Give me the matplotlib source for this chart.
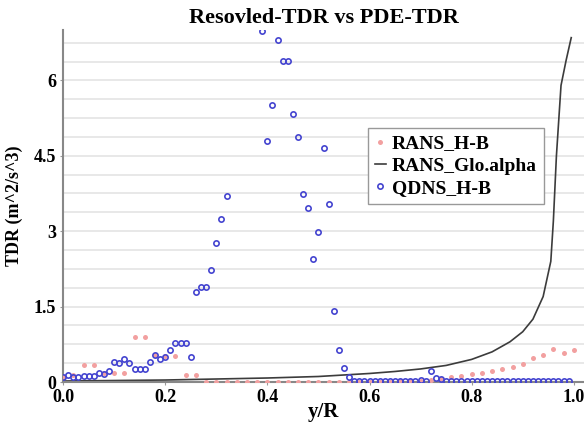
import numpy as np
import matplotlib
matplotlib.use('Agg')
import matplotlib.pyplot as plt
from matplotlib.ticker import MultipleLocator

# RANS_H-B (pink dots), every 0.02
rans_hb_x = [0.00, 0.02, 0.04, 0.06, 0.08, 0.10, 0.12, 0.14, 0.16, 0.18, 0.20,
             0.22, 0.24, 0.26, 0.28, 0.30, 0.32, 0.34, 0.36, 0.38, 0.40, 0.42,
             0.44, 0.46, 0.48, 0.50, 0.52, 0.54, 0.56, 0.58, 0.60, 0.62, 0.64,
             0.66, 0.68, 0.70, 0.72, 0.74, 0.76, 0.78, 0.80, 0.82, 0.84, 0.86,
             0.88, 0.90, 0.92, 0.94, 0.96, 0.98, 1.00]
rans_hb_y = [0.10, 0.13, 0.34, 0.34, 0.17, 0.18, 0.18, 0.89, 0.89, 0.53, 0.52,
             0.51, 0.14, 0.14, 0.01, 0.01, 0.01, 0.01, 0.01, 0.01, 0.01, 0.01,
             0.01, 0.01, 0.01, 0.01, 0.01, 0.01, 0.01, 0.01, 0.01, 0.01, 0.01,
             0.02, 0.02, 0.03, 0.05, 0.07, 0.10, 0.12, 0.15, 0.18, 0.21, 0.25,
             0.30, 0.35, 0.47, 0.54, 0.65, 0.57, 0.63]

# RANS_Glo.alpha (line)
glo_x = [0.0, 0.1, 0.2, 0.3, 0.4, 0.5, 0.6, 0.65, 0.7, 0.75, 0.8, 0.84, 0.875,
         0.9, 0.92, 0.94, 0.955, 0.96, 0.966, 0.975, 0.985, 0.995]
glo_y = [0.02, 0.03, 0.04, 0.06, 0.08, 0.11, 0.17, 0.21, 0.26, 0.33, 0.45, 0.60,
         0.80, 1.00, 1.25, 1.70, 2.40, 3.20, 4.50, 5.90, 6.40, 6.85]

# QDNS_H-B (blue circles), every 0.01 (0.33-0.38 above the plotted range)
qdns_x = [0.00, 0.01, 0.02, 0.03, 0.04, 0.05, 0.06, 0.07, 0.08, 0.09, 0.10,
          0.11, 0.12, 0.13, 0.14, 0.15, 0.16, 0.17, 0.18, 0.19, 0.20, 0.21,
          0.22, 0.23, 0.24, 0.25, 0.26, 0.27, 0.28, 0.29, 0.30, 0.31, 0.32,
          0.39, 0.40, 0.41, 0.42, 0.43, 0.44, 0.45, 0.46, 0.47, 0.48, 0.49,
          0.50, 0.51, 0.52, 0.53, 0.54, 0.55, 0.56, 0.57, 0.58, 0.59, 0.60,
          0.61, 0.62, 0.63, 0.64, 0.65, 0.66, 0.67, 0.68, 0.69, 0.70, 0.71,
          0.72, 0.73, 0.74, 0.75, 0.76, 0.77, 0.78, 0.79, 0.80, 0.81, 0.82,
          0.83, 0.84, 0.85, 0.86, 0.87, 0.88, 0.89, 0.90, 0.91, 0.92, 0.93,
          0.94, 0.95, 0.96, 0.97, 0.98, 0.99]
qdns_y = [0.10, 0.14, 0.10, 0.09, 0.11, 0.11, 0.12, 0.17, 0.16, 0.22, 0.40,
          0.38, 0.46, 0.38, 0.25, 0.25, 0.25, 0.40, 0.54, 0.45, 0.50, 0.64,
          0.78, 0.78, 0.78, 0.50, 1.79, 1.89, 1.89, 2.23, 2.76, 3.24, 3.70,
          6.98, 4.79, 5.51, 6.80, 6.38, 6.38, 5.33, 4.87, 3.74, 3.46, 2.45,
          2.98, 4.65, 3.54, 1.41, 0.64, 0.28, 0.10, 0.02, 0.02, 0.02, 0.02,
          0.02, 0.02, 0.02, 0.02, 0.02, 0.02, 0.02, 0.02, 0.02, 0.05, 0.02,
          0.22, 0.08, 0.06, 0.03, 0.02, 0.02, 0.02, 0.02, 0.02, 0.02, 0.02,
          0.02, 0.02, 0.02, 0.02, 0.02, 0.02, 0.02, 0.02, 0.02, 0.02, 0.02,
          0.02, 0.02, 0.02, 0.02, 0.02, 0.02]

plt.rcParams['font.family'] = ['Liberation Serif', 'DejaVu Serif']
plt.rcParams['font.weight'] = 'bold'

fig = plt.figure(figsize=(5.84, 4.24), dpi=100)
ax = fig.add_axes([0.108, 0.099, 0.892, 0.83])

ax.plot(rans_hb_x, rans_hb_y, linestyle='none', marker='o', markersize=3.6,
        color='#f2a0a0', markeredgewidth=0, label='RANS_H-B', zorder=3)
ax.plot(glo_x, glo_y, color='#3c3c3c', linewidth=1.2, label='RANS_Glo.alpha', zorder=2)
ax.plot(qdns_x, qdns_y, linestyle='none', marker='o', markersize=3.8,
        markerfacecolor='none', markeredgecolor='#4545d0', markeredgewidth=1.2,
        label='QDNS_H-B', zorder=4)

ax.set_xlim(0, 1.02)
ax.set_ylim(0, 7.0)
ax.set_xticks([0.0, 0.2, 0.4, 0.6, 0.8, 1.0])
ax.set_xticklabels(['0.0', '0.2', '0.4', '0.6', '0.8', '1.0'])
ax.set_yticks([0, 1.5, 3, 4.5, 6])
ax.set_yticklabels(['0', '1.5', '3', '4.5', '6'])
ax.yaxis.set_minor_locator(MultipleLocator(0.375))
ax.grid(True, axis='y', which='both', color='#e6e6e6', linewidth=1.3, zorder=0)
ax.set_axisbelow(True)
ax.tick_params(axis='both', which='major', labelsize=13, length=2, color='#999999', pad=3)
ax.tick_params(axis='y', which='minor', length=0)

for s in ['top', 'right']:
    ax.spines[s].set_visible(False)
for s in ['left', 'bottom']:
    ax.spines[s].set_color('#888888')
    ax.spines[s].set_linewidth(1.5)

ax.set_title('Resovled-TDR vs PDE-TDR', fontsize=16, fontweight='bold', pad=5)
ax.set_xlabel('y/R', fontsize=15, fontweight='bold', labelpad=-3)
ax.set_ylabel('TDR (m^2/s^3)', fontsize=13, fontweight='bold', labelpad=8)

leg = ax.legend(loc='upper left', bbox_to_anchor=(0.585, 0.722), borderaxespad=0,
                fontsize=14, handlelength=0.6, handletextpad=0.3, borderpad=0.35,
                labelspacing=0.25, fancybox=False, framealpha=1)
leg.get_frame().set_edgecolor('#999999')

plt.savefig('out.png', dpi=100)
